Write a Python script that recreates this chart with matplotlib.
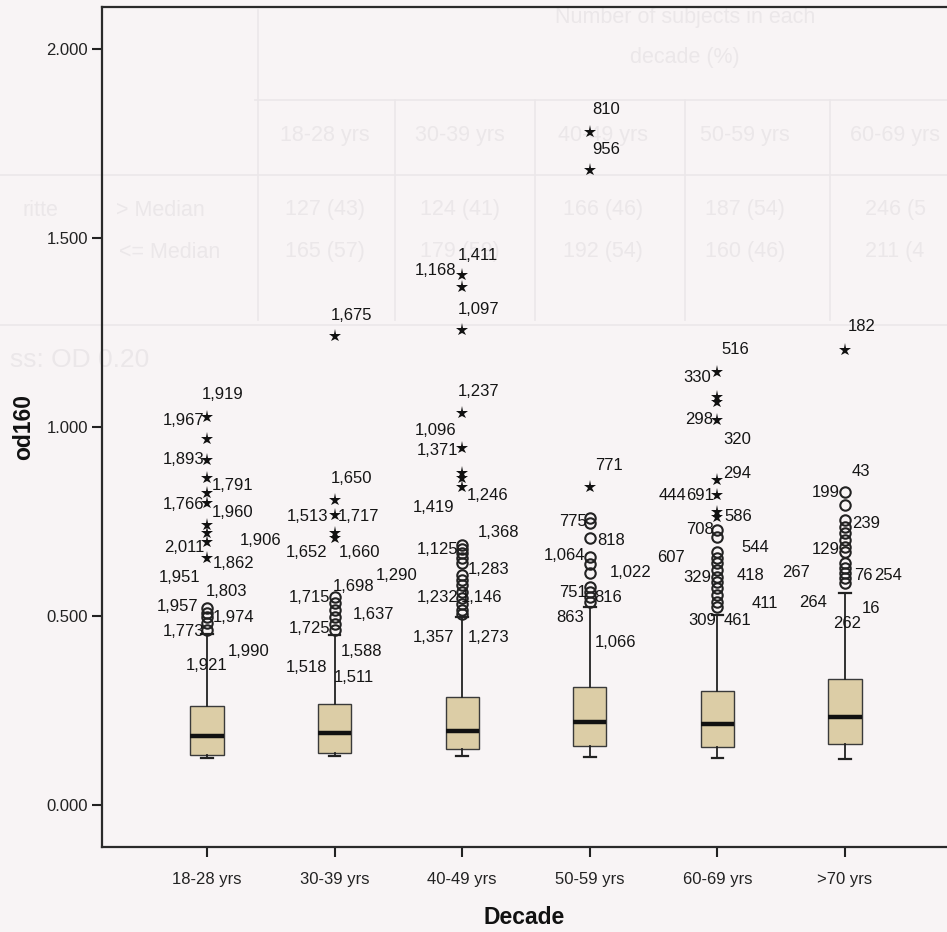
import matplotlib.pyplot as plt
from matplotlib.lines import Line2D

# box summary per decade
DECADES = ["18-28 yrs", "30-39 yrs", "40-49 yrs", "50-59 yrs", "60-69 yrs", ">70 yrs"]
MEDIAN = [0.183, 0.190, 0.196, 0.219, 0.214, 0.233]
Q1 = [0.132, 0.138, 0.148, 0.156, 0.153, 0.161]
Q3 = [0.262, 0.267, 0.286, 0.312, 0.302, 0.333]
WHISK_LO = [0.124, 0.130, 0.130, 0.127, 0.124, 0.122]
WHISK_HI = [0.452, 0.450, 0.497, 0.524, 0.503, 0.561]

# extreme values (stars) and outliers (circles)
STARS = [
    [1.026, 0.968, 0.913, 0.865, 0.825, 0.799, 0.741, 0.720, 0.696, 0.653],
    [1.241, 0.807, 0.767, 0.720, 0.706],
    [1.402, 1.370, 1.257, 1.037, 0.944, 0.878, 0.865, 0.841],
    [1.780, 1.680, 0.841],
    [1.146, 1.079, 1.066, 1.019, 0.860, 0.820, 0.775, 0.762],
    [1.204],
]
CIRCLES = [
    [0.521, 0.508, 0.497, 0.481, 0.463],
    [0.550, 0.534, 0.516, 0.497, 0.479, 0.463],
    [0.688, 0.677, 0.667, 0.653, 0.640, 0.608, 0.595, 0.582, 0.563, 0.548, 0.532, 0.516, 0.505],
    [0.759, 0.746, 0.706, 0.656, 0.638, 0.614, 0.577, 0.563, 0.550, 0.537],
    [0.728, 0.709, 0.669, 0.653, 0.640, 0.622, 0.603, 0.590, 0.574, 0.556, 0.537, 0.524],
    [0.828, 0.794, 0.754, 0.735, 0.720, 0.701, 0.683, 0.669, 0.640, 0.627, 0.614, 0.601, 0.587],
]

# case ids shown next to the outliers: (id, y, x offset px, alignment)
CASE_IDS = [
    [("1,919", 1.087, -5, "left"), ("1,967", 1.016, -3, "right"), ("1,893", 0.913, -3, "right"),
     ("1,791", 0.844, 5, "left"), ("1,766", 0.794, -3, "right"), ("1,960", 0.775, 5, "left"),
     ("1,906", 0.701, 33, "left"), ("2,011", 0.680, -3, "right"), ("1,862", 0.640, 6, "left"),
     ("1,951", 0.603, -7, "right"), ("1,803", 0.566, -1, "left"), ("1,957", 0.526, -9, "right"),
     ("1,974", 0.497, 6, "left"), ("1,773", 0.460, -3, "right"), ("1,990", 0.407, 21, "left"),
     ("1,921", 0.370, 0, "center")],
    [("1,675", 1.296, -4, "left"), ("1,650", 0.865, -4, "left"), ("1,513", 0.762, -6, "right"),
     ("1,717", 0.762, 3, "left"), ("1,652", 0.669, -7, "right"), ("1,660", 0.669, 4, "left"),
     ("1,290", 0.608, 41, "left"), ("1,698", 0.577, -2, "left"), ("1,715", 0.548, -4, "right"),
     ("1,637", 0.503, 18, "left"), ("1,725", 0.468, -4, "right"), ("1,588", 0.405, 6, "left"),
     ("1,518", 0.365, -7, "right"), ("1,511", 0.336, -1, "left")],
    [("1,411", 1.455, -4, "left"), ("1,168", 1.415, -6, "right"), ("1,097", 1.310, -4, "left"),
     ("1,237", 1.093, -4, "left"), ("1,096", 0.992, -6, "right"), ("1,371", 0.939, -4, "right"),
     ("1,246", 0.820, 5, "left"), ("1,419", 0.788, -8, "right"), ("1,368", 0.720, 16, "left"),
     ("1,125", 0.675, -4, "right"), ("1,283", 0.622, 6, "left"), ("1,232", 0.550, -4, "right"),
     ("1,146", 0.550, -1, "left"), ("1,357", 0.442, -8, "right"), ("1,273", 0.442, 6, "left")],
    [("810", 1.839, 2, "left"), ("956", 1.733, 2, "left"), ("771", 0.899, 5, "left"),
     ("775", 0.749, -3, "right"), ("818", 0.701, 7, "left"), ("1,064", 0.661, -5, "right"),
     ("1,022", 0.616, 20, "left"), ("751", 0.561, -3, "right"), ("816", 0.550, 4, "left"),
     ("863", 0.495, -6, "right"), ("1,066", 0.431, 5, "left")],
    [("516", 1.204, 4, "left"), ("330", 1.130, -6, "right"), ("298", 1.019, -4, "right"),
     ("320", 0.966, 6, "left"), ("294", 0.878, 6, "left"), ("691", 0.820, -3, "right"),
     ("444", 0.820, -31, "right"), ("586", 0.762, 7, "left"), ("708", 0.728, -4, "right"),
     ("544", 0.680, 24, "left"), ("607", 0.656, -33, "right"), ("329", 0.601, -6, "right"),
     ("418", 0.608, 19, "left"), ("411", 0.534, 34, "left"), ("309", 0.489, -1, "right"),
     ("461", 0.489, 6, "left")],
    [("182", 1.265, 3, "left"), ("43", 0.881, 7, "left"), ("199", 0.828, -5, "right"),
     ("239", 0.746, 7, "left"), ("129", 0.675, -5, "right"), ("267", 0.614, -35, "right"),
     ("76", 0.608, 9, "left"), ("254", 0.608, 29, "left"), ("264", 0.537, -18, "right"),
     ("16", 0.521, 17, "left"), ("262", 0.481, 2, "center")],
]

# faint table bleeding through the scan
GHOST_COLS = ["18-28 yrs", "30-39 yrs", "40-49 yrs", "50-59 yrs", "60-69 yrs"]
GHOST_ABOVE = ["127 (43)", "124 (41)", "166 (46)", "187 (54)", "246 (5"]
GHOST_BELOW = ["165 (57)", "179 (59)", "192 (54)", "160 (46)", "211 (4"]

BG = "#f8f4f5"
GHOST = "#ebe7e9"
W, H = 947, 932

plt.rcParams["font.family"] = ["Liberation Sans", "DejaVu Sans"]

fig = plt.figure(figsize=(W / 100, H / 100), dpi=100, facecolor=BG)


def fx(px):
    return px / W


def fy(py):
    return 1 - py / H


# ghost table behind the plot
gkw = dict(color=GHOST, fontsize=15.5, ha="center", va="center", zorder=-2)
fig.text(fx(685), fy(18), "Number of subjects in each", **gkw)
fig.text(fx(685), fy(58), "decade (%)", **gkw)
col_x = [325, 460, 603, 745, 895]
for i, x in enumerate(col_x):
    fig.text(fx(x), fy(135), GHOST_COLS[i], **gkw)
    fig.text(fx(x), fy(210), GHOST_ABOVE[i], **gkw)
    fig.text(fx(x), fy(252), GHOST_BELOW[i], **gkw)
fig.text(fx(40), fy(210), "ritte", **gkw)
fig.text(fx(160), fy(210), "> Median", **gkw)
fig.text(fx(170), fy(252), "<= Median", **gkw)
fig.text(fx(10), fy(360), "ss: OD 0.20", color=GHOST, fontsize=19, ha="left", va="center", zorder=-2)
for (x0, y0, x1, y1) in [(255, 100, 947, 100), (0, 175, 947, 175), (0, 325, 947, 325),
                         (258, 10, 258, 320), (395, 100, 395, 320), (535, 100, 535, 320),
                         (685, 100, 685, 320), (830, 100, 830, 320)]:
    fig.add_artist(Line2D([fx(x0), fx(x1)], [fy(y0), fy(y1)], color=GHOST, lw=1.2, zorder=-2))

# plot area: left spine at x=102 px, bottom at y=847 px, top at y=7 px
ax = fig.add_axes([fx(102), fy(847), 1 - fx(102), fy(7) - fy(847)])
ax.set_facecolor("none")

stats = []
for i in range(len(DECADES)):
    stats.append(dict(med=MEDIAN[i], q1=Q1[i], q3=Q3[i], whislo=WHISK_LO[i], whishi=WHISK_HI[i], fliers=[]))

ax.bxp(stats, positions=range(len(DECADES)), widths=0.26, capwidths=0.09, showfliers=False,
       patch_artist=True,
       boxprops=dict(facecolor="#dccda6", edgecolor="#3a3a3a", linewidth=1.0),
       medianprops=dict(color="#111111", linewidth=3.2),
       whiskerprops=dict(color="#222222", linewidth=1.3),
       capprops=dict(color="#222222", linewidth=1.6))

for i in range(len(DECADES)):
    ax.plot([i] * len(CIRCLES[i]), CIRCLES[i], "o", ms=7.5, mfc="none", mec="#222222", mew=1.5, zorder=4)
    ax.plot([i] * len(STARS[i]), STARS[i], "*", ms=9.5, color="#111111", mew=0, zorder=4)
    for txt, yv, dx, ha in CASE_IDS[i]:
        ax.annotate(txt, xy=(i, yv), xytext=(dx, 0), textcoords="offset pixels",
                    ha=ha, va="center", fontsize=12, color="#151515", zorder=5)

ax.set_xlim(-(207 - 102) / 127.6, (947 - 207) / 127.6)
ax.set_ylim(-42 / 378, 798 / 378)
ax.set_yticks([0, 0.5, 1.0, 1.5, 2.0])
ax.set_yticklabels(["0.000", "0.500", "1.000", "1.500", "2.000"])
ax.set_xticks(range(len(DECADES)))
ax.set_xticklabels(DECADES)
ax.tick_params(axis="both", direction="out", length=7, width=1.5, color="#222222",
               labelsize=12, labelcolor="#222222")
ax.tick_params(axis="x", pad=11)
ax.tick_params(axis="y", pad=3)
ax.spines["right"].set_visible(False)
for s in ["left", "bottom", "top"]:
    ax.spines[s].set_linewidth(1.6)
    ax.spines[s].set_color("#2a2a2a")

ax.set_ylabel("od160", fontsize=16.5, fontweight="bold", labelpad=8, color="#111111")
ax.set_xlabel("Decade", fontsize=16.5, fontweight="bold", labelpad=14, color="#111111")

fig.savefig("out.png", dpi=100, facecolor=BG)
